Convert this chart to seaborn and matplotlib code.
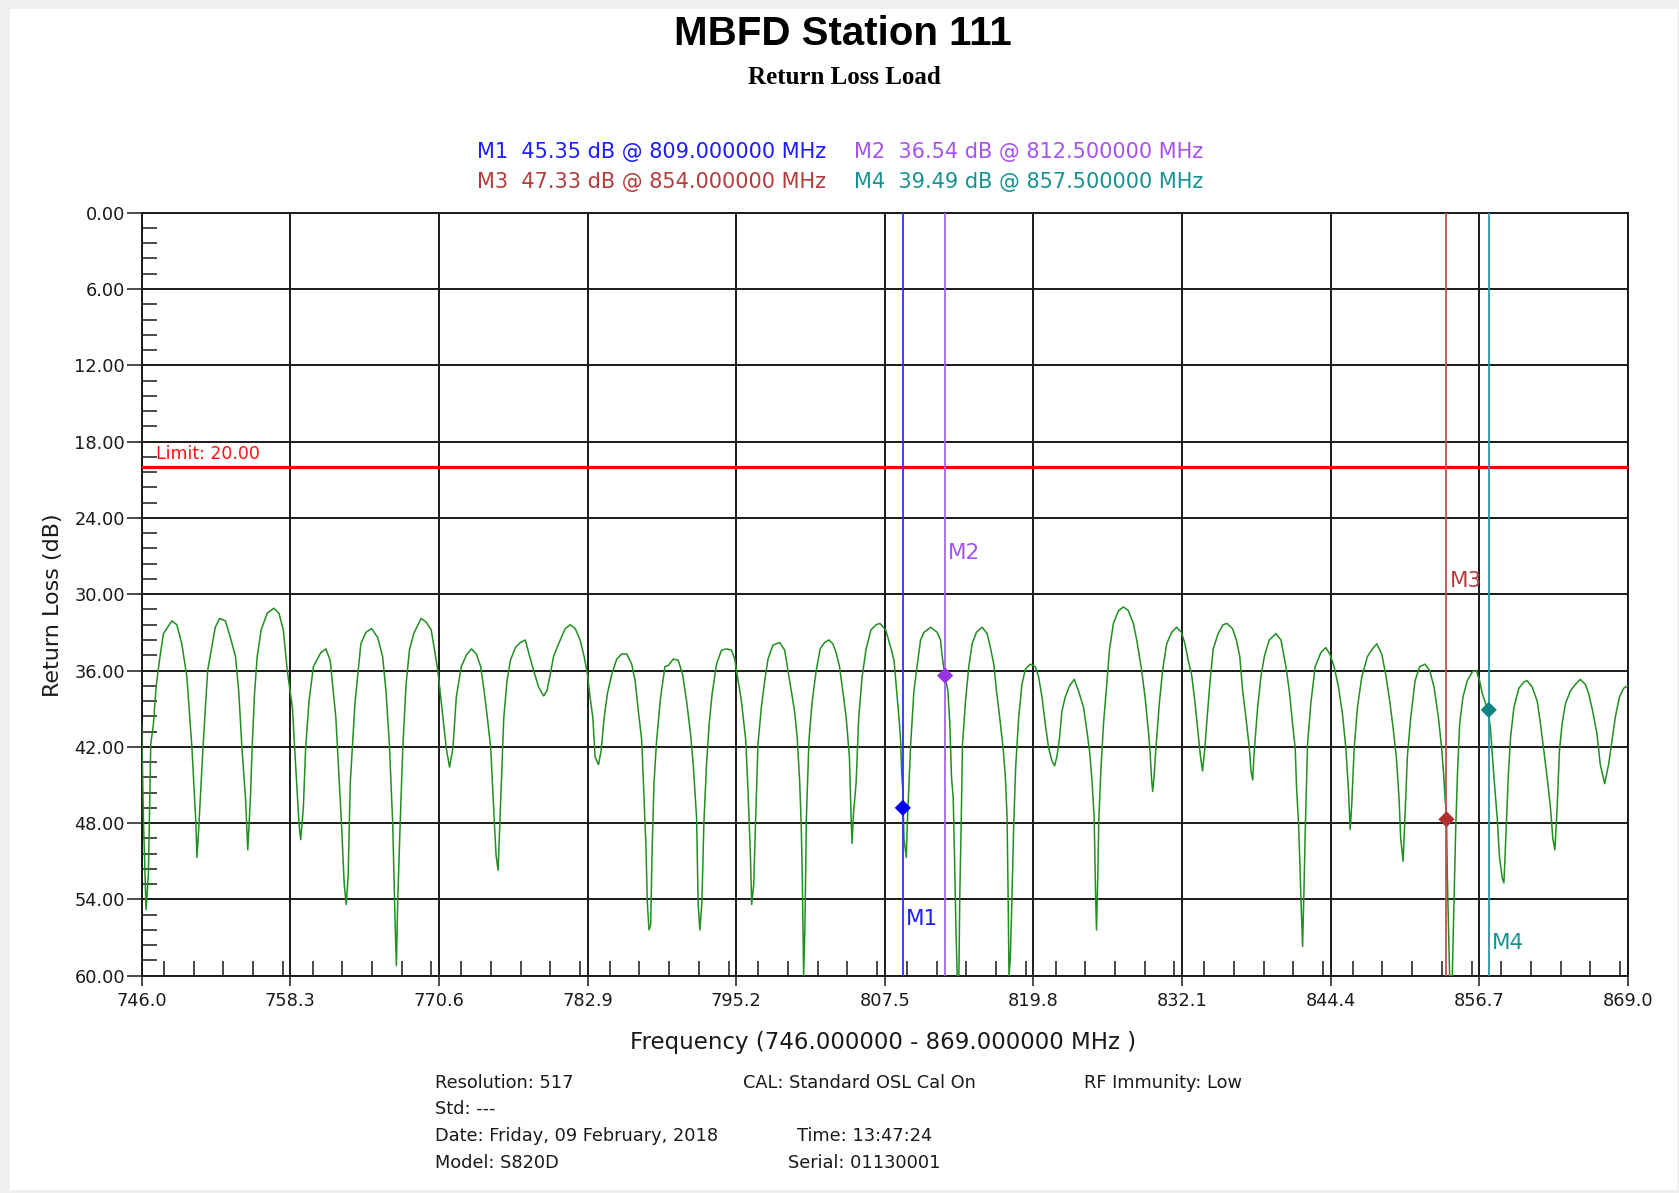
import matplotlib
matplotlib.use("Agg")
import matplotlib.pyplot as plt
import seaborn as sns
import pandas as pd
from matplotlib.patches import Rectangle
from matplotlib.ticker import FixedLocator, MultipleLocator

# ---------------- data ----------------
freq_mhz = [
    746.00, 746.14, 746.36, 746.55, 746.75, 746.97, 747.19, 747.47, 747.80, 748.49,
    748.91, 749.32, 749.74, 750.16, 750.49, 750.57, 750.71, 751.07, 751.46, 752.09,
    752.45, 752.93, 753.34, 753.76, 754.03, 754.31, 754.59, 754.78, 755.00, 755.14,
    755.34, 755.56, 755.89, 756.39, 756.94, 757.36, 757.72, 758.05, 758.47, 758.83,
    759.02, 759.16, 759.38, 759.57, 759.85, 760.21, 760.82, 761.24, 761.60, 762.07,
    762.54, 762.76, 762.93, 763.09, 763.26, 763.65, 764.14, 764.56, 765.03, 765.53,
    765.94, 766.22, 766.50, 766.78, 766.97, 767.08, 767.19, 767.41, 767.61, 767.88,
    768.16, 768.52, 769.13, 769.55, 769.96, 770.24, 770.51, 770.93, 771.21, 771.48,
    771.76, 772.04, 772.45, 772.87, 773.29, 773.70, 774.06, 774.34, 774.61, 774.89,
    775.17, 775.33, 775.50, 775.64, 775.78, 775.97, 776.24, 776.52, 776.93, 777.34,
    777.75, 778.03, 778.44, 778.85, 779.27, 779.54, 779.82, 780.09, 780.51, 781.06,
    781.47, 781.88, 782.29, 782.62, 782.90, 783.07, 783.34, 783.53, 783.81, 784.03,
    784.28, 784.55, 784.91, 785.32, 785.73, 786.15, 786.56, 786.84, 787.11, 787.39,
    787.58, 787.74, 787.85, 787.99, 788.13, 788.24, 788.40, 788.62, 788.95, 789.31,
    789.59, 790.00, 790.41, 790.77, 791.10, 791.43, 791.65, 791.93, 792.06, 792.20,
    792.37, 792.53, 792.75, 792.97, 793.22, 793.58, 793.99, 794.40, 794.82, 795.09,
    795.28, 795.64, 796.00, 796.19, 796.39, 796.49, 796.66, 796.82, 797.01, 797.29,
    797.57, 797.84, 798.25, 798.81, 799.22, 799.49, 799.77, 800.04, 800.26, 800.46,
    800.59, 800.68, 800.79, 800.90, 801.01, 801.23, 801.50, 801.83, 802.16, 802.52,
    802.88, 803.21, 803.48, 803.76, 804.03, 804.31, 804.58, 804.72, 804.80, 804.91,
    805.13, 805.35, 805.63, 805.96, 806.37, 806.79, 807.11, 807.58, 808.00, 808.27,
    808.49, 808.68, 808.82, 808.90, 809.00, 809.10, 809.29, 809.37, 809.65, 809.92,
    810.20, 810.47, 810.75, 811.30, 811.85, 812.12, 812.26, 812.50, 812.73, 812.89,
    813.03, 813.17, 813.28, 813.39, 813.50, 813.64, 813.72, 813.83, 813.94, 814.19,
    814.46, 814.74, 815.09, 815.56, 815.98, 816.25, 816.53, 816.75, 817.02, 817.30,
    817.49, 817.63, 817.71, 817.79, 817.90, 818.01, 818.18, 818.34, 818.59, 818.86,
    819.14, 819.55, 819.97, 820.24, 820.52, 820.79, 821.07, 821.34, 821.56, 821.75,
    821.97, 822.17, 822.44, 822.80, 823.19, 823.54, 823.96, 824.23, 824.45, 824.64,
    824.84, 824.95, 825.03, 825.14, 825.22, 825.39, 825.61, 825.88, 826.10, 826.43,
    826.85, 827.26, 827.67, 828.08, 828.36, 828.77, 829.05, 829.32, 829.46, 829.60,
    829.68, 829.79, 829.95, 830.23, 830.50, 830.84, 831.25, 831.66, 832.07, 832.35,
    832.62, 832.90, 833.17, 833.45, 833.64, 833.81, 834.00, 834.19, 834.41, 834.69,
    835.10, 835.51, 835.84, 836.28, 836.61, 836.89, 837.13, 837.40, 837.68, 837.82,
    837.96, 838.09, 838.37, 838.64, 838.92, 839.33, 839.88, 840.30, 840.71, 840.99,
    841.26, 841.48, 841.59, 841.76, 841.87, 841.98, 842.09, 842.20, 842.31, 842.50,
    842.77, 843.13, 843.60, 844.01, 844.34, 844.70, 845.06, 845.39, 845.67, 845.89,
    846.03, 846.16, 846.36, 846.63, 846.99, 847.46, 847.87, 848.23, 848.64, 848.97,
    849.30, 849.58, 849.85, 850.07, 850.21, 850.41, 850.54, 850.76, 851.04, 851.40,
    851.78, 852.22, 852.61, 852.97, 853.33, 853.60, 853.77, 853.88, 854.00, 854.07,
    854.26, 854.48, 854.62, 854.76, 854.90, 855.09, 855.36, 855.72, 856.14, 856.47,
    856.74, 856.96, 857.24, 857.50, 857.65, 857.93, 858.20, 858.39, 858.61, 858.75,
    858.89, 859.11, 859.30, 859.58, 859.99, 860.41, 860.68, 861.09, 861.51, 861.78,
    862.06, 862.33, 862.61, 862.80, 862.97, 863.16, 863.35, 863.57, 863.85, 864.26,
    864.66, 865.08, 865.50, 865.77, 866.10, 866.46, 866.73, 867.09, 867.42, 867.70,
    867.97, 868.31, 868.66, 869.00,
]
return_loss_db = [
    40.2, 47.6, 54.8, 52.1, 41.8, 40.2, 37.3, 35.2, 33.1, 32.1,
    32.4, 33.9, 36.5, 42.1, 48.1, 50.7, 48.6, 42.1, 36.0, 32.6,
    31.9, 32.1, 33.4, 34.9, 37.6, 42.3, 46.0, 50.1, 46.0, 42.1,
    37.8, 34.9, 32.8, 31.5, 31.1, 31.5, 32.8, 36.0, 38.9, 44.9,
    48.1, 49.3, 46.8, 42.1, 38.4, 35.7, 34.6, 34.3, 35.2, 39.7,
    48.1, 52.8, 54.4, 52.1, 44.9, 38.6, 33.9, 33.0, 32.7, 33.4,
    34.9, 37.6, 41.8, 48.1, 55.7, 59.2, 54.2, 47.6, 42.1, 37.1,
    34.4, 33.1, 31.9, 32.2, 32.8, 34.4, 36.0, 39.7, 42.1, 43.6,
    42.1, 38.1, 35.7, 34.8, 34.3, 34.7, 35.7, 37.6, 39.7, 42.1,
    47.6, 50.5, 51.7, 48.1, 44.4, 39.7, 36.8, 35.2, 34.2, 33.8,
    33.6, 34.6, 36.0, 37.3, 38.0, 37.6, 36.3, 34.9, 33.9, 32.7,
    32.4, 32.7, 33.6, 34.9, 36.3, 37.8, 39.7, 42.8, 43.4, 42.3,
    39.7, 37.8, 36.3, 35.1, 34.7, 34.7, 35.5, 36.8, 39.2, 41.5,
    46.0, 49.9, 54.2, 56.4, 56.0, 50.5, 44.9, 41.5, 38.1, 35.7,
    35.6, 35.1, 35.2, 36.3, 38.4, 41.0, 43.4, 47.6, 54.4, 56.4,
    54.2, 48.1, 43.4, 40.2, 37.8, 35.5, 34.4, 34.3, 34.4, 35.1,
    36.3, 38.4, 41.5, 45.5, 50.7, 54.4, 52.8, 47.6, 41.8, 38.9,
    36.8, 35.1, 34.0, 33.8, 34.4, 36.0, 37.6, 39.2, 41.3, 44.7,
    48.1, 52.3, 60.0, 56.0, 47.8, 41.5, 38.4, 36.0, 34.3, 33.8,
    33.6, 33.9, 34.6, 35.7, 37.6, 39.7, 42.8, 47.6, 49.6, 47.3,
    44.9, 39.7, 36.5, 34.3, 32.8, 32.4, 32.3, 32.8, 34.2, 35.2,
    37.6, 39.7, 41.5, 44.0, 45.4, 49.3, 50.7, 48.1, 41.8, 37.6,
    35.5, 33.6, 33.0, 32.6, 33.0, 33.6, 34.9, 36.5, 37.6, 40.2,
    44.4, 46.0, 50.7, 56.0, 60.0, 60.0, 53.4, 48.1, 41.8, 38.4,
    35.7, 33.9, 33.0, 32.6, 33.1, 34.2, 35.5, 37.6, 39.7, 42.1,
    44.4, 47.6, 53.4, 60.0, 58.6, 54.7, 48.1, 43.6, 39.7, 37.1,
    35.9, 35.5, 35.7, 36.5, 38.1, 40.2, 42.1, 43.1, 43.5, 42.8,
    41.3, 39.2, 38.1, 37.2, 36.7, 37.6, 38.9, 40.7, 42.3, 44.4,
    47.6, 53.4, 56.4, 52.1, 47.8, 43.9, 40.2, 37.1, 34.4, 32.3,
    31.3, 31.0, 31.3, 32.3, 33.6, 36.0, 38.1, 40.7, 42.3, 44.7,
    45.5, 44.4, 42.1, 38.6, 36.0, 33.9, 33.0, 32.6, 33.0, 33.9,
    35.2, 36.3, 38.4, 41.0, 42.8, 43.9, 42.1, 39.7, 37.1, 34.3,
    33.1, 32.4, 32.3, 32.7, 33.6, 34.9, 37.6, 39.7, 42.1, 43.9,
    44.6, 42.3, 38.9, 36.5, 34.9, 33.6, 33.1, 33.6, 35.7, 37.6,
    40.2, 42.1, 45.2, 48.1, 51.5, 54.7, 57.7, 53.4, 48.6, 41.8,
    38.6, 35.7, 34.6, 34.2, 34.7, 35.7, 37.3, 39.4, 42.1, 45.5,
    48.5, 46.5, 42.1, 38.9, 36.5, 34.9, 34.3, 33.9, 34.7, 36.3,
    38.4, 40.5, 42.8, 46.0, 49.2, 51.0, 48.1, 42.8, 39.7, 36.8,
    35.7, 35.5, 36.0, 37.3, 39.7, 42.1, 44.2, 46.0, 47.3, 52.1,
    60.0, 60.0, 54.4, 48.6, 44.4, 40.2, 38.1, 36.8, 36.1, 36.0,
    36.8, 37.8, 38.6, 39.5, 40.7, 44.4, 47.6, 50.7, 52.3, 52.7,
    49.7, 44.4, 41.3, 38.9, 37.4, 36.9, 36.8, 37.3, 38.4, 40.2,
    42.3, 44.4, 46.8, 49.2, 50.1, 46.8, 42.3, 40.2, 38.6, 37.6,
    37.1, 36.7, 37.1, 37.8, 39.2, 41.0, 43.4, 44.9, 43.4, 41.5,
    39.7, 38.1, 37.4, 37.2,
]

marker_names = ["M1", "M2", "M3", "M4"]
marker_freq = [809.0, 812.5, 854.0, 857.5]
marker_value_db = [45.35, 36.54, 47.33, 39.49]
marker_drawn_db = [46.8, 36.4, 47.7, 39.1]
marker_label_db = [56.0, 27.2, 29.4, 57.9]
marker_line_colors = ["#2f2fff", "#a464f2", "#c05050", "#2a96a6"]
marker_dot_colors = ["#0000ee", "#9634e0", "#b03030", "#118585"]
marker_text_colors = ["#1c1cff", "#a552f0", "#b43c3c", "#179292"]

limit_db = 20.0
x_tick_values = [746.0, 758.3, 770.6, 782.9, 795.2, 807.5, 819.8, 832.1, 844.4, 856.7, 869.0]
x_tick_labels = ["746.0", "758.3", "770.6", "782.9", "795.2", "807.5",
                 "819.8", "832.1", "844.4", "856.7", "869.0"]
y_tick_values = [0, 6, 12, 18, 24, 30, 36, 42, 48, 54, 60]
y_tick_labels = ["0.00", "6.00", "12.00", "18.00", "24.00", "30.00",
                 "36.00", "42.00", "48.00", "54.00", "60.00"]

footer_left = ["Resolution: 517", "Std: ---", "Date: Friday, 09 February, 2018", "Model: S820D"]

# ---------------- figure ----------------
sns.set_theme(style="white")
plt.rcParams["font.family"] = ["DejaVu Sans"]

W, H = 1679, 1193
fig = plt.figure(figsize=(W / 100, H / 100), dpi=100, facecolor="#efefef")
fig.patches.append(Rectangle((10 / W, 1 - 1190 / H), (1677 - 10) / W, (1190 - 9) / H,
                             transform=fig.transFigure, facecolor="white",
                             edgecolor="none", zorder=-10))

ax = fig.add_axes([141.7 / W, 1 - 975.7 / H, 1486 / W, 763 / H])
ax.set_facecolor("white")

df = pd.DataFrame({"freq": freq_mhz, "rl": return_loss_db})
sns.lineplot(data=df, x="freq", y="rl", ax=ax, color="#1f8f1f", lw=1.1,
             estimator=None, sort=False, zorder=4)

ax.axhline(limit_db, color="#ff0000", lw=2.3, zorder=5)
ax.text(747.16, 19.36, f"Limit: {limit_db:.2f}", color="#ff1010", fontsize=12.5,
        va="baseline", ha="left", zorder=6)

for i, name in enumerate(marker_names):
    ax.axvline(marker_freq[i], color=marker_line_colors[i], lw=1.3, zorder=5)
    ax.annotate(name, (marker_freq[i], marker_label_db[i]), xytext=(2.3, 0),
                textcoords="offset points", color=marker_text_colors[i],
                fontsize=15.5, va="baseline", ha="left", zorder=6)

mk = pd.DataFrame({"f": marker_freq, "db": marker_drawn_db, "name": marker_names})
sns.scatterplot(data=mk, x="f", y="db", hue="name",
                palette=dict(zip(marker_names, marker_dot_colors)),
                marker="D", s=68, edgecolor="none", legend=False, ax=ax, zorder=7)

ax.set_xlim(746, 869)
ax.set_ylim(60, 0)
ax.xaxis.set_major_locator(FixedLocator(x_tick_values))
ax.set_xticklabels(x_tick_labels)
ax.yaxis.set_major_locator(FixedLocator(y_tick_values))
ax.set_yticklabels(y_tick_labels)
ax.xaxis.set_minor_locator(MultipleLocator(2.46))
ax.yaxis.set_minor_locator(MultipleLocator(1.2))

ax.grid(True, which="major", color="#1a1a1a", lw=1.4, zorder=1)
ax.set_axisbelow(True)
for sp in ax.spines.values():
    sp.set_visible(True)
    sp.set_color("#1a1a1a")
    sp.set_linewidth(1.4)

ax.tick_params(axis="x", which="major", direction="out", length=7.5, width=1.1,
               color="#1a1a1a", labelsize=12.8, pad=4, labelcolor="#1a1a1a",
               bottom=True)
ax.tick_params(axis="y", which="major", direction="out", length=11, width=1.1,
               color="#1a1a1a", labelsize=12.8, pad=1, labelcolor="#1a1a1a",
               left=True)
ax.tick_params(axis="both", which="minor", direction="in", length=10.5, width=1.1,
               color="#1a1a1a", bottom=True, left=True)

ax.set_xlabel("Frequency (746.000000 - 869.000000 MHz )", fontsize=16.5, color="#1a1a1a")
ax.set_ylabel("Return Loss (dB)", fontsize=16, color="#1a1a1a")
ax.xaxis.set_label_coords((883 - 141.7) / 1486, -(1042 - 975.7) / 763)
ax.xaxis.label.set_va("center")
ax.yaxis.set_label_coords((53.5 - 141.7) / 1486, (975.7 - 605) / 763)
ax.yaxis.label.set_va("center")

# ---------------- texts ----------------
fig.text(843 / W, 1 - 34 / H, "MBFD Station 111", fontsize=29, fontweight="bold",
         family=["Liberation Sans", "DejaVu Sans"], ha="center", va="center", color="black")
fig.text(844 / W, 1 - 77 / H, "Return Loss Load", fontsize=18, fontweight="bold",
         family=["Liberation Serif", "DejaVu Serif"], ha="center", va="center", color="black")

legend_x = [476.7, 853.5, 476.7, 853.5]
legend_y = [152, 152, 182, 182]
for i, name in enumerate(marker_names):
    txt = f"{name}  {marker_value_db[i]:.2f} dB @ {marker_freq[i]:.6f} MHz"
    fig.text(legend_x[i] / W, 1 - legend_y[i] / H, txt, fontsize=15.0,
             color=marker_text_colors[i], ha="left", va="center")

for j, t in enumerate(footer_left):
    fig.text(434.7 / W, 1 - (1082.6 + 26.8 * j) / H, t, fontsize=12.8,
             color="#1a1a1a", ha="left", va="center")
fig.text(743 / W, 1 - 1082.6 / H, "CAL: Standard OSL Cal On", fontsize=12.8,
         color="#1a1a1a", ha="left", va="center")
fig.text(1083.6 / W, 1 - 1082.6 / H, "RF Immunity: Low", fontsize=12.8,
         color="#1a1a1a", ha="left", va="center")
fig.text(796.6 / W, 1 - 1136.2 / H, "Time: 13:47:24", fontsize=12.8,
         color="#1a1a1a", ha="left", va="center")
fig.text(788 / W, 1 - 1163 / H, "Serial: 01130001", fontsize=12.8,
         color="#1a1a1a", ha="left", va="center")

fig.savefig("out.png", dpi=100, facecolor=fig.get_facecolor())
